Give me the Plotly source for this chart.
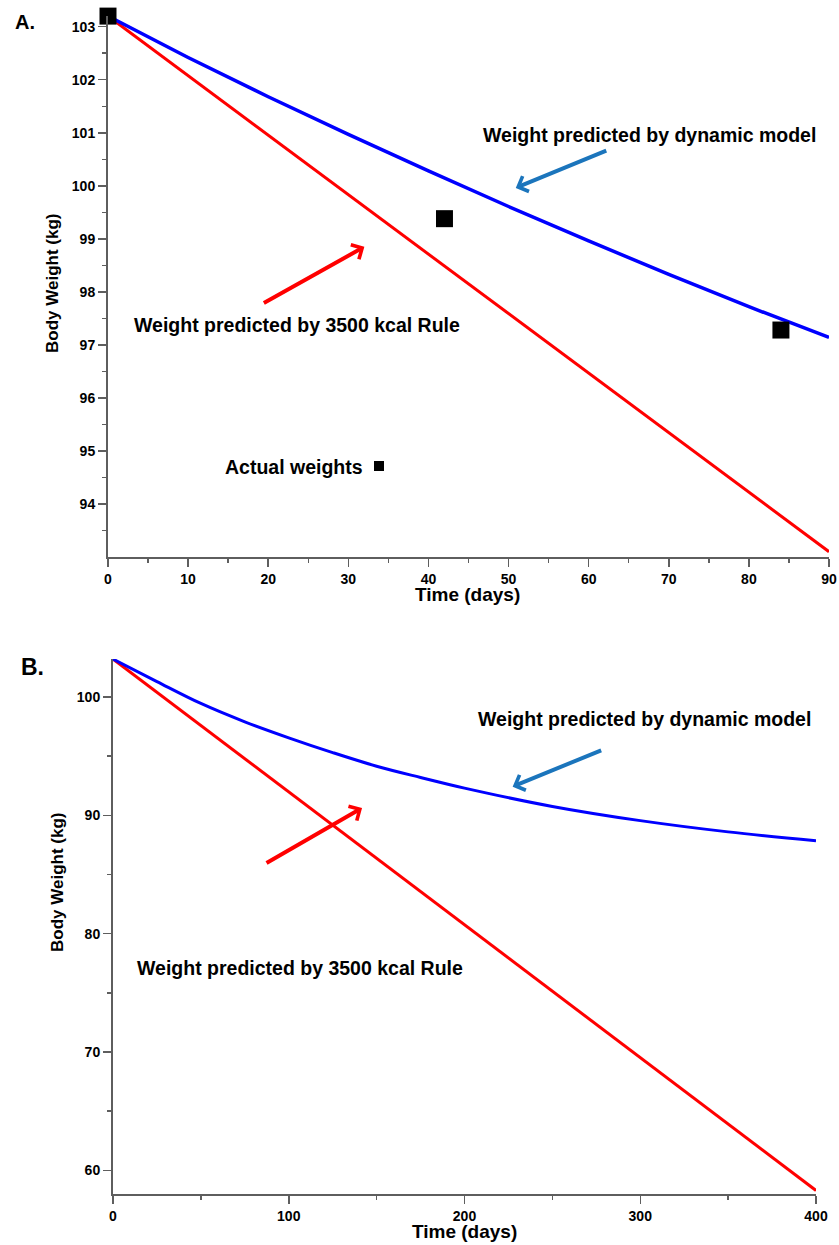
import plotly.graph_objects as go

W, H = 839, 1245

# ---------------- Panel A data ----------------
days_a = [0, 10, 20, 30, 40, 50, 60, 70, 80, 90]
dynamic_a = [103.2, 102.42, 101.68, 100.97, 100.28, 99.61, 98.96, 98.33, 97.72, 97.14]
rule_days_a = [0, 90]
rule_a = [103.2, 93.1]
actual_days = [0, 42, 84]
actual_weights = [103.2, 99.38, 97.28]
ytick_a = [94, 95, 96, 97, 98, 99, 100, 101, 102, 103]
yminor_a = [93.5, 94.5, 95.5, 96.5, 97.5, 98.5, 99.5, 100.5, 101.5, 102.5]
xtick_a = [0, 10, 20, 30, 40, 50, 60, 70, 80, 90]
xminor_a = [5, 15, 25, 35, 45, 55, 65, 75, 85]

# ---------------- Panel B data ----------------
days_b = [0, 25, 50, 75, 100, 125, 150, 175, 200, 250, 300, 350, 400]
dynamic_b = [103.2, 101.3, 99.45, 97.9, 96.55, 95.3, 94.15, 93.2, 92.3, 90.75, 89.55, 88.6, 87.85]
rule_days_b = [0, 400]
rule_b = [103.2, 58.3]
ytick_b = [60, 70, 80, 90, 100]
yminor_b = [65, 75, 85, 95]
xtick_b = [0, 100, 200, 300, 400]
xminor_b = [50, 150, 250, 350]

FONT = "Liberation Sans, Arial, sans-serif"
AX = "#5e5e5e"
BLUE_ARROW = "#1b75bc"


def px(x):
    return x / W


def py(y):
    return 1 - y / H


fig = go.Figure()

# Panel A
fig.add_trace(go.Scatter(x=rule_days_a, y=rule_a, mode="lines", line=dict(color="#ff0000", width=3),
                         cliponaxis=False, xaxis="x", yaxis="y"))
fig.add_trace(go.Scatter(x=days_a, y=dynamic_a, mode="lines", line=dict(color="#0000ff", width=3.5),
                         cliponaxis=False, xaxis="x", yaxis="y"))
fig.add_trace(go.Scatter(x=actual_days, y=actual_weights, mode="markers",
                         marker=dict(symbol="square", size=17, color="black"),
                         cliponaxis=False, xaxis="x", yaxis="y"))

# Panel B
fig.add_trace(go.Scatter(x=rule_days_b, y=rule_b, mode="lines", line=dict(color="#ff0000", width=3),
                         cliponaxis=False, xaxis="x2", yaxis="y2"))
fig.add_trace(go.Scatter(x=days_b, y=dynamic_b, mode="lines", line=dict(color="#0000ff", width=3, shape="spline"),
                         cliponaxis=False, xaxis="x2", yaxis="y2"))


def axis_common():
    return dict(showline=True, linecolor=AX, linewidth=2, ticks="outside", ticklen=8, tickwidth=1.5,
                tickcolor=AX, showgrid=False, zeroline=False, tickmode="array", automargin=False,
                tickfont=dict(family=FONT, size=14, color="black", weight="bold"))


xa = axis_common()
xa.update(domain=[px(108), px(829)], range=[0, 90], anchor="y", tickvals=xtick_a,
          minor=dict(tickmode="array", tickvals=xminor_a, ticklen=4, tickcolor=AX, tickwidth=1.5, showgrid=False))
ya = axis_common()
ya.update(domain=[py(557), py(16.1)], range=[93, 103.2], anchor="x", tickvals=ytick_a,
          minor=dict(tickmode="array", tickvals=yminor_a, ticklen=4, tickcolor=AX, tickwidth=1.5, showgrid=False))
xb = axis_common()
xb.update(domain=[px(113), px(816)], range=[0, 400], anchor="y2", tickvals=xtick_b,
          minor=dict(tickmode="array", tickvals=xminor_b, ticklen=4, tickcolor=AX, tickwidth=1.5, showgrid=False))
yb = axis_common()
yb.update(domain=[py(1194), py(659.1)], range=[58, 103.2], anchor="x2", tickvals=ytick_b,
          minor=dict(tickmode="array", tickvals=yminor_b, ticklen=4, tickcolor=AX, tickwidth=1.5, showgrid=False))

annotations = []


def text(x, y, s, size=19, bold=True, angle=0):
    annotations.append(dict(xref="paper", yref="paper", x=px(x), y=py(y), text=(f"<b>{s}</b>" if bold else s),
                            showarrow=False, xanchor="center", yanchor="middle", textangle=angle,
                            font=dict(family=FONT, size=size, color="black")))


def arrow(xref, yref, x, y, ax, ay, color):
    annotations.append(dict(xref=xref, yref=yref, x=x, y=y, ax=ax, ay=ay, text="", showarrow=True,
                            arrowhead=4, arrowsize=0.8, arrowwidth=4, arrowcolor=color))


# Panel labels
text(25, 22, "A.", size=20)
text(32, 667, "B.", size=23)

# Axis titles
text(467, 594, "Time (days)", size=19)
text(464, 1231, "Time (days)", size=19)
text(53, 284, "Body Weight (kg)", size=17, angle=-90)
text(57, 883, "Body Weight (kg)", size=17, angle=-90)

# Panel A annotations
text(649.5, 135, "Weight predicted by dynamic model", size=19.5)
text(296.5, 325, "Weight predicted by 3500 kcal Rule", size=19.5)
text(293.5, 467, "Actual weights", size=19.5)
arrow("x", "y", 50.9, 99.96, 92, -38, BLUE_ARROW)
arrow("x", "y", 32.0, 98.85, -102, 57, "#ff0000")

# Panel B annotations
text(644.5, 719, "Weight predicted by dynamic model", size=19.5)
text(300, 968, "Weight predicted by 3500 kcal Rule", size=19.5)
arrow("x2", "y2", 227.4, 92.42, 90, -37, BLUE_ARROW)
arrow("x2", "y2", 141.7, 90.62, -97, 56, "#ff0000")

shapes = [dict(type="rect", xref="paper", yref="paper", x0=px(374), x1=px(384), y0=py(471), y1=py(461),
               fillcolor="black", line=dict(width=0))]

fig.update_layout(width=W, height=H, autosize=False, margin=dict(l=0, r=0, t=0, b=0, autoexpand=False),
                  showlegend=False, plot_bgcolor="white", paper_bgcolor="white",
                  xaxis=xa, yaxis=ya, xaxis2=xb, yaxis2=yb,
                  annotations=annotations, shapes=shapes)

fig.write_html(
    "out.html",
    config={"responsive": False, "displayModeBar": False, "staticPlot": True},
    post_script=(
        "document.documentElement.style.margin='0';document.documentElement.style.overflow='hidden';"
        "document.body.style.margin='0';document.body.style.padding='0';document.body.style.overflow='hidden';"
        "var gd=document.getElementById('{plot_id}');Plotly.relayout(gd,{width:839,height:1245});"
    ),
)
